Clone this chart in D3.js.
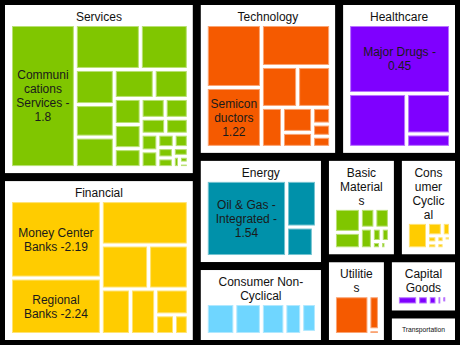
<!DOCTYPE html>
<html>
<head>
<meta charset="utf-8">
<script src="https://cdn.jsdelivr.net/npm/d3@7"></script>
<style>
  body { margin: 0; background: #000; }
  svg { display: block; }
  text { font-family: "Liberation Sans", Arial, sans-serif; }
</style>
</head>
<body>
<svg width="460" height="345"></svg>
<script>
const sectors = ["Services", "Financial", "Technology", "Healthcare", "Energy",
  "Consumer Non-Cyclical", "Basic Materials", "Consumer Cyclical", "Utilities",
  "Capital Goods", "Transportation"];
const sectorWeights = [345, 327, 222, 187, 140, 100, 74, 62, 54, 40, 21];
const sectorColors = ["#80c600", "#ffcc00", "#f55a00", "#7f00ff", "#0091aa",
  "#6fd6ff", "#80c600", "#ffcc00", "#f55a00", "#7f00ff", "#0091aa"];

// industry sizes inside each sector
const servicesValues = [930, 293, 216, 137, 127, 119, 116, 99, 70, 65, 51, 48, 46, 39, 36, 28, 28, 22, 19, 16, 15, 13, 7, 6, 4];
const financialValues = [701, 511, 385, 207, 174, 132, 114, 84, 37, 27];
const technologyValues = [347, 330, 290, 148, 135, 84, 75, 45, 30, 22, 20];
const healthcareValues = [704, 313, 178, 59];
const energyValues = [596, 136, 77, 9];
const nonCyclicalValues = [85, 79, 70, 50, 41, 3];
const materialsValues = [63, 43, 29, 29, 25, 12, 11, 6, 4, 2.5];
const cyclicalValues = [48, 18, 10, 6, 5, 4.5, 4, 3, 2.5, 2];
const utilitiesValues = [135, 36, 5];
const capitalGoodsValues = [21, 11, 9, 5, 4, 3, 2];
const transportationValues = [12, 6, 3];

const industryValues = [servicesValues, financialValues, technologyValues, healthcareValues,
  energyValues, nonCyclicalValues, materialsValues, cyclicalValues, utilitiesValues,
  capitalGoodsValues, transportationValues];

// labelled industries: sector, position in that sector's list, name, % change
const labelSector = ["Services", "Technology", "Healthcare", "Financial", "Financial", "Energy"];
const labelIndex = [0, 1, 0, 0, 1, 0];
const labelNames = ["Communications Services", "Semiconductors", "Major Drugs",
  "Money Center Banks", "Regional Banks", "Oil & Gas - Integrated"];
const labelChanges = [-1.8, 1.22, -0.45, -2.19, -2.24, -1.54];

const svg = d3.select("svg");
const width = 460, height = 345;
svg.append("rect").attr("width", width).attr("height", height).attr("fill", "#000");

const ctx = document.createElement("canvas").getContext("2d");
function textWidth(s, size) {
  ctx.font = size + "px 'Liberation Sans', Arial, sans-serif";
  return ctx.measureText(s).width;
}

// greedy wrap: break at spaces, after hyphens, and inside words that are too long
function wrap(text, maxW, size) {
  const pieces = [];
  text.split(" ").forEach(word => {
    word.split(/(?<=-)/).forEach((p, i) => pieces.push({s: p, space: i === 0}));
  });
  const lines = [];
  let line = "";
  pieces.forEach(p => {
    const cand = line ? line + (p.space ? " " : "") + p.s : p.s;
    if (textWidth(cand, size) <= maxW) { line = cand; return; }
    if (line) lines.push(line);
    let rest = p.s;
    while (rest.length > 1 && textWidth(rest, size) > maxW) {
      let k = 1;
      while (k < rest.length && textWidth(rest.slice(0, k + 1), size) <= maxW) k++;
      lines.push(rest.slice(0, k));
      rest = rest.slice(k);
    }
    line = rest;
  });
  if (line) lines.push(line);
  return lines;
}

const root = d3.hierarchy({children: sectors.map((name, i) => ({name, i, value: sectorWeights[i]}))})
  .sum(d => d.value || 0)
  .sort((a, b) => b.value - a.value);

d3.treemap()
  .size([width, height])
  .paddingOuter(5)
  .paddingInner(8)
  .tile(d3.treemapSquarify.ratio(1))(root);

root.leaves().forEach(s => {
  const i = s.data.i;
  const w = s.x1 - s.x0, h = s.y1 - s.y0;
  const g = svg.append("g");
  g.append("rect")
    .attr("x", s.x0).attr("y", s.y0)
    .attr("width", w).attr("height", h)
    .attr("fill", "#fff");

  let size = 12;
  let lines = wrap(sectors[i], w - 20, size);
  const fits = 16 + 14 * (lines.length - 1) + 4 <= h;
  if (!fits) {
    // no room for a wrapped title: shrink it onto one line
    size = Math.min(12, 12 * (w - 20) / textWidth(sectors[i], 12));
    g.append("text")
      .attr("x", (s.x0 + s.x1) / 2).attr("y", (s.y0 + s.y1) / 2 + size * 0.35)
      .attr("text-anchor", "middle").attr("font-size", size).attr("fill", "#111")
      .text(sectors[i]);
    return;
  }
  lines.forEach((t, j) => {
    g.append("text")
      .attr("x", (s.x0 + s.x1) / 2).attr("y", s.y0 + 16 + 14 * j)
      .attr("text-anchor", "middle").attr("font-size", size).attr("fill", "#111")
      .text(t);
  });

  const ix0 = s.x0 + 7, ix1 = s.x1 - 6;
  const iy0 = s.y0 + 21 + 14 * (lines.length - 1), iy1 = s.y1 - 7;
  if (ix1 - ix0 < 2 || iy1 - iy0 < 2) return;

  const sub = d3.hierarchy({children: industryValues[i].map((v, k) => ({k, value: v}))})
    .sum(d => d.value || 0)
    .sort((a, b) => b.value - a.value);
  d3.treemap()
    .size([ix1 - ix0, iy1 - iy0])
    .paddingInner(3)
    .tile(d3.treemapSquarify.ratio(1))(sub);

  const color = sectorColors[i];
  const edge = d3.interpolateRgb(color, "#fff")(0.45);
  sub.leaves().forEach(c => {
    const cw = c.x1 - c.x0, ch = c.y1 - c.y0;
    if (cw < 1.5 || ch < 1.5) return;
    g.append("rect")
      .attr("x", ix0 + c.x0 + 0.5).attr("y", iy0 + c.y0 + 0.5)
      .attr("width", cw - 1).attr("height", ch - 1)
      .attr("fill", color).attr("stroke", edge).attr("stroke-width", 1);

    const li = labelSector.findIndex((name, n) => name === sectors[i] && labelIndex[n] === c.data.k);
    if (li < 0) return;
    const label = labelNames[li] + " " + labelChanges[li];
    const ll = wrap(label, cw - 5, 12);
    const cx = ix0 + (c.x0 + c.x1) / 2, cy = iy0 + (c.y0 + c.y1) / 2;
    ll.forEach((t, j) => {
      g.append("text")
        .attr("x", cx).attr("y", cy + (j - (ll.length - 1) / 2) * 14 + 4.3)
        .attr("text-anchor", "middle").attr("font-size", 12).attr("fill", "#1a1a1a")
        .text(t);
    });
  });
});
</script>
</body>
</html>
